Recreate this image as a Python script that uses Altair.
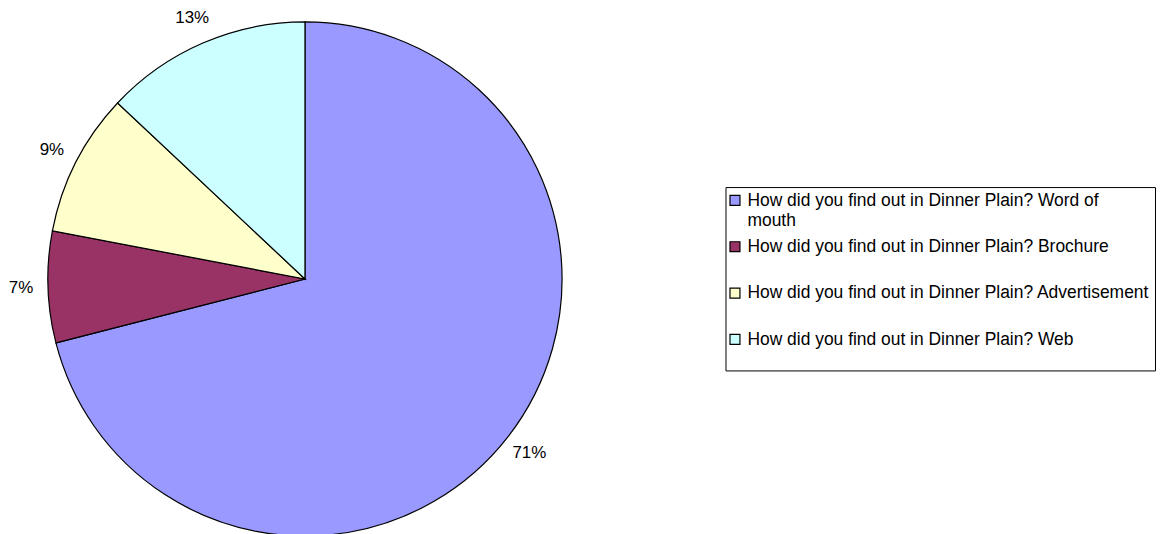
import altair as alt
import pandas as pd

categories = [
    "How did you find out in Dinner Plain? Word of mouth",
    "How did you find out in Dinner Plain? Brochure",
    "How did you find out in Dinner Plain? Advertisement",
    "How did you find out in Dinner Plain? Web",
]
legend_labels = [
    "How did you find out in Dinner Plain? Word of\nmouth",
    "How did you find out in Dinner Plain? Brochure",
    "How did you find out in Dinner Plain? Advertisement",
    "How did you find out in Dinner Plain? Web",
]
percents = [71, 7, 9, 13]
pct_labels = ["71%", "7%", "9%", "13%"]
colors = ["#9999FF", "#993366", "#FFFFCC", "#CCFFFF"]
slice_order = [0, 1, 2, 3]

df = pd.DataFrame({
    "category": categories,
    "label": legend_labels,
    "value": percents,
    "pct": pct_labels,
    "idx": slice_order,
})

FONT = "Liberation Sans"

color = alt.Color("category:N", scale=alt.Scale(domain=categories, range=colors), legend=None)

base = alt.Chart(df).encode(
    theta=alt.Theta("value:Q", stack=True),
    order=alt.Order("idx:Q"),
)
pie = base.mark_arc(radius=258, stroke="black", strokeWidth=1.2).encode(color=color)
pct_text = base.mark_text(radius=285, font=FONT, fontSize=17, color="black").encode(text="pct:N")
pie_chart = (pie + pct_text).properties(width=590, height=536)

yenc = alt.Y(
    "category:N",
    scale=alt.Scale(type="point", domain=categories, padding=0.478, align=0.3),
    axis=None,
)
leg_base = alt.Chart(df).encode(y=yenc)
squares = leg_base.mark_square(size=100, stroke="black", strokeWidth=1.2, opacity=1).encode(
    x=alt.value(9.5), color=color
)
leg_text = leg_base.mark_text(
    align="left", baseline="top", dy=-8.6, lineBreak="\n", lineHeight=20,
    font=FONT, fontSize=17.5, color="black",
).encode(x=alt.value(22), text="label:N")
legend_chart = (squares + leg_text).properties(
    width=431, height=184,
    view=alt.ViewBackground(stroke="black", strokeWidth=1),
)

chart = alt.hconcat(pie_chart, legend_chart, spacing=126, center=True).properties(
    padding=0
).configure_view(stroke=None)

chart.save("out.html", embed_options={"renderer": "svg", "actions": False})
